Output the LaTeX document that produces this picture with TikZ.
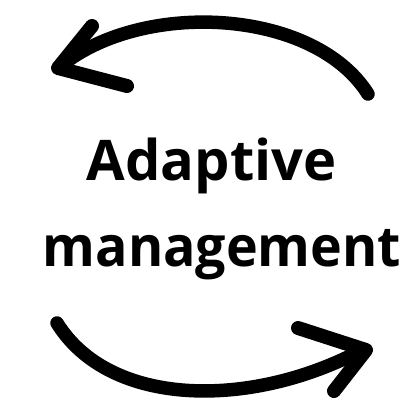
\documentclass[tikz,border=0pt]{standalone}
\usepackage{fontspec}
\setmainfont{Open Sans}
\tikzset{
  shaft/.style={line width=13.5pt, line cap=round},
  barb/.style={line width=14pt, line cap=round, line join=round},
  label/.style={font=\fontsize{56}{60}\selectfont\bfseries, inner sep=0pt}
}

\begin{document}
\begin{tikzpicture}[x=1pt,y=-1pt]
\useasboundingbox (0,0) rectangle (411,403);

% text
\node[label, anchor=base] (adapt) at (211.5,180) {Adaptive};
\node[label, anchor=base, xscale=0.96] (mgmt) at (222,266) {management};

% top arrow
\coordinate (ttip) at (58,68);
\draw[shaft] (368,94) .. controls (315,10) and (150,0) .. (66,62);
\draw[barb] (92,26) -- (ttip) -- (127,86);

% bottom arrow
\coordinate (btip) at (366,350);
\draw[shaft] (57,323) .. controls (110,408) and (250,408) .. (358,352);
\draw[barb] (298,328) -- (btip) -- (334,391);
\end{tikzpicture}
\end{document}
